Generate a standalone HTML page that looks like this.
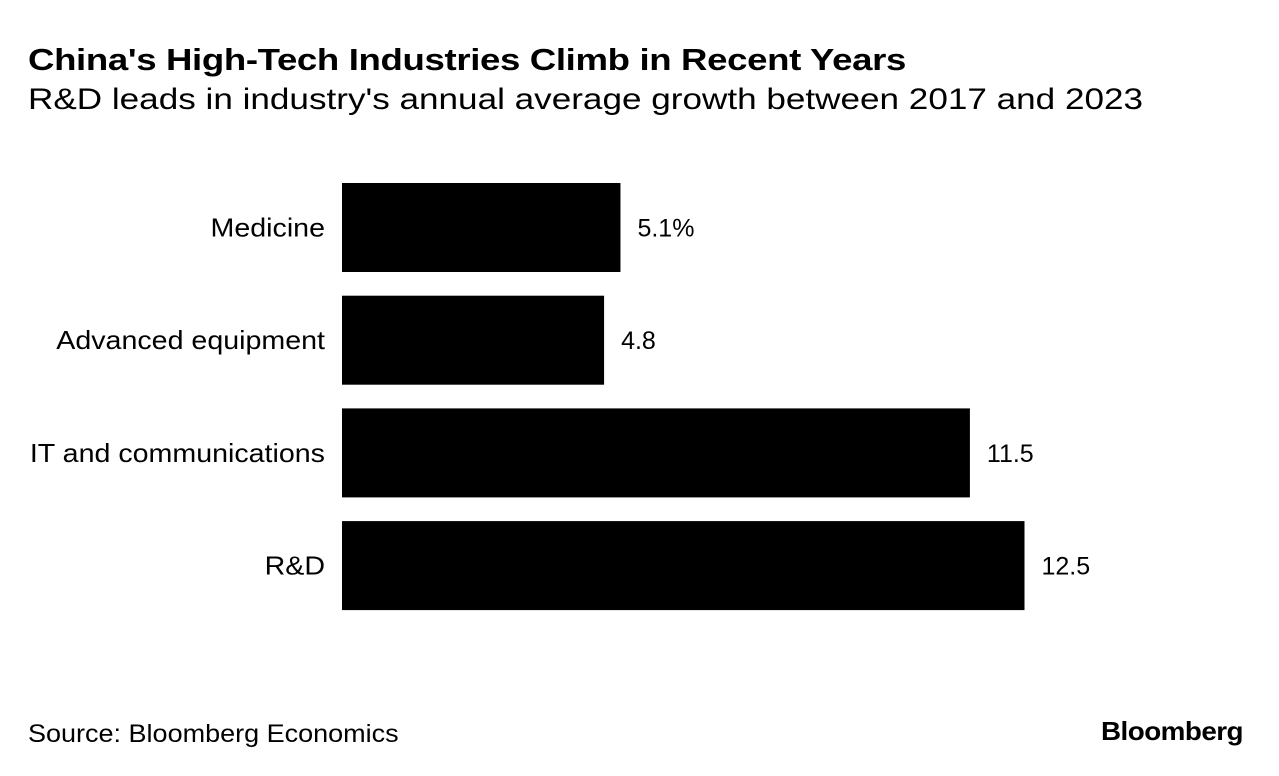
<!DOCTYPE html>
<html><head><meta charset="utf-8"><style>
body{margin:0;background:#fff;width:1279px;height:776px;overflow:hidden;font-family:"Liberation Sans",Arial,sans-serif;color:#000;position:relative}
.t{position:absolute;white-space:nowrap;transform-origin:left top}
</style></head><body>
<div class="t" style="left:28px;top:42px;font-size:31px;font-weight:bold;letter-spacing:-0.3px;transform:scaleX(1.18)">China's High-Tech Industries Climb in Recent Years</div>
<div class="t" style="left:28px;top:83px;font-size:30px;transform:scaleX(1.17)">R&amp;D leads in industry's annual average growth between 2017 and 2023</div>
<svg id="chart" width="1279" height="776" style="position:absolute;left:0;top:0"></svg>
<div class="t" style="left:28px;top:720px;font-size:25px;transform:scaleX(1.08)">Source: Bloomberg Economics</div>
<div class="t" style="left:1101px;top:716px;font-size:26px;font-weight:bold;letter-spacing:-0.5px;transform:scaleX(1.07)">Bloomberg</div>
<script>
const categories=["Medicine","Advanced equipment","IT and communications","R&D"];
const values=[5.1,4.8,11.5,12.5];
const valueLabels=["5.1%","4.8","11.5","12.5"];
const x0=342,scale=54.6,top0=183,step=112.7,bh=89;
const xs=v=>x0+v*scale, ys=i=>top0+i*step;
const svg=document.getElementById('chart');
const NS="http://www.w3.org/2000/svg";
function stretch(t,k){const w=t.getComputedTextLength();t.setAttribute('textLength',w*k);t.setAttribute('lengthAdjust','spacingAndGlyphs');}
categories.forEach((c,i)=>{
  const r=document.createElementNS(NS,'rect');
  r.setAttribute('x',x0);r.setAttribute('y',ys(i));
  r.setAttribute('width',xs(values[i])-x0);r.setAttribute('height',bh);r.setAttribute('fill','#000');
  
  
  svg.appendChild(r);
  const l=document.createElementNS(NS,'text');
  l.setAttribute('x',325);l.setAttribute('y',ys(i)+bh/2+9);l.setAttribute('text-anchor','end');
  l.setAttribute('font-size','26');l.textContent=c;
  
  
  svg.appendChild(l);
  stretch(l,1.1);
  const v=document.createElementNS(NS,'text');
  v.setAttribute('x',xs(values[i])+17);v.setAttribute('y',ys(i)+bh/2+9);
  v.setAttribute('font-size','25');v.textContent=valueLabels[i];
  
  
  svg.appendChild(v);
});
</script>
</body></html>
